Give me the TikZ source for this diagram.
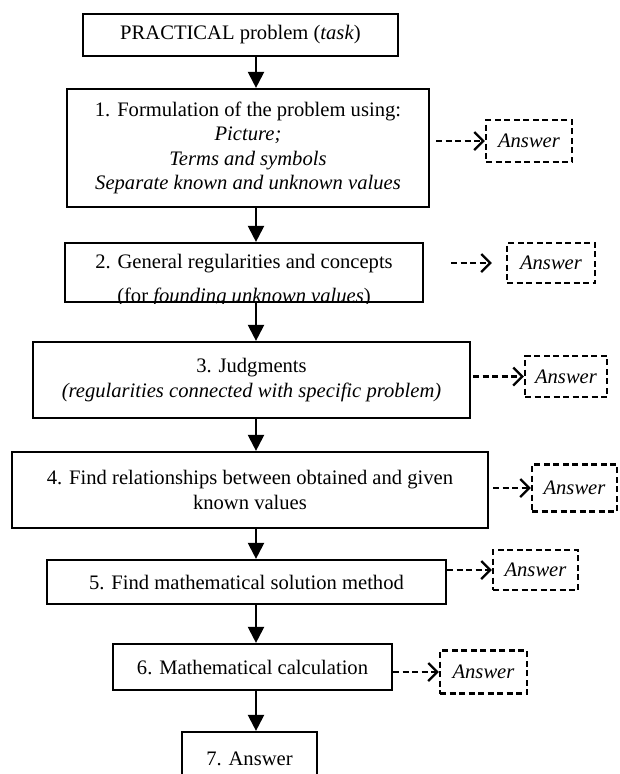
\documentclass[tikz,border=0pt]{standalone}
\usepackage{fontspec}
\setmainfont{Liberation Serif}
\usetikzlibrary{arrows.meta}
\begin{document}
\begin{tikzpicture}[x=1pt,y=-1pt,
  every node/.style={font=\fontsize{20.6}{24.5}\selectfont, inner sep=0pt, align=center},
  box/.style={draw, line width=2.2pt},
  ansbox/.style={draw, line width=2.4pt, dash pattern=on 6pt off 3.5pt, font=\fontsize{20.6}{24.5}\selectfont\itshape},
  mainarrow/.style={line width=2.2pt, -{Triangle[length=16pt,width=16pt]}},
  dasharrow/.style={line width=2.2pt, dash pattern=on 6pt off 3.5pt, -{Straight Barb[length=9pt,width=18pt,line width=2.2pt]}}
]
\clip (0,0) rectangle (619,774);
\fill[white] (0,0) rectangle (619,774);
\coordinate (vx) at (256,0);

% main boxes
\node[box, minimum width=315pt, minimum height=42pt] (b0) at (240.5,35) {PRACTICAL problem (\textit{task})};
\node[box, minimum width=362pt, minimum height=118pt] (b1) at (248,148)
  {1. Formulation of the problem using:\\ \textit{Picture;}\\ \textit{Terms and symbols}\\ \textit{Separate known and unknown values}};
\node[box, minimum width=358pt, minimum height=59pt] (b2) at (244,272.5) {};
\begin{scope}
  \clip (b2.south west) rectangle (b2.north east);
  \node (t2a) at (244,264) {2. General regularities and concepts};
  \node (t2b) at (244,297.5) {(for \textit{founding unknown values})};
\end{scope}
\node[box, minimum width=437pt, minimum height=76pt] (b3) at (251.5,380)
  {3. Judgments\\ \textit{(regularities connected with specific problem)}};
\node[box, minimum width=476pt, minimum height=76pt] (b4) at (250,490)
  {4. Find relationships between obtained and given\\ known values};
\node[box, minimum width=399pt, minimum height=44pt] (b5) at (246.5,582) {5. Find mathematical solution method};
\node[box, minimum width=279pt, minimum height=46pt] (b6) at (252.5,667) {6. Mathematical calculation};
\node[box, minimum width=135pt, minimum height=70pt] (b7) at (249.5,767) {};
\node (t7) at (249.5,759) {7. Answer};

% answer boxes
\node[ansbox, minimum width=86pt, minimum height=42pt] (a1) at (529,141) {Answer};
\node[ansbox, minimum width=88pt, minimum height=40pt] (a2) at (551,263) {Answer};
\node[ansbox, minimum width=82pt, minimum height=41pt] (a3) at (566,376.5) {Answer};
\node[ansbox, minimum width=85pt, minimum height=47pt] (a4) at (574.5,488) {Answer};
\node[ansbox, minimum width=85pt, minimum height=40pt] (a5) at (535.5,570) {Answer};
\node[ansbox, minimum width=87pt, minimum height=43pt] (a6) at (483.5,672) {Answer};

% main arrows
\draw[mainarrow] (b0.south -| vx) -- (b1.north -| vx);
\draw[mainarrow] (b1.south -| vx) -- (b2.north -| vx);
\draw[mainarrow] (b2.south -| vx) -- (b3.north -| vx);
\draw[mainarrow] (b3.south -| vx) -- (b4.north -| vx);
\draw[mainarrow] (b4.south -| vx) -- (b5.north -| vx);
\draw[mainarrow] (b5.south -| vx) -- (b6.north -| vx);
\draw[mainarrow] (b6.south -| vx) -- (b7.north -| vx);

% dashed arrows
\draw[dasharrow] ([xshift=6pt]b1.east |- a1.west) -- (a1.west);
\draw[dasharrow] ([xshift=27pt]b2.east |- a2.west) -- ([xshift=-14pt]a2.west);
\draw[dasharrow] ([xshift=2pt]b3.east |- a3.west) -- (a3.west);
\draw[dasharrow] ([xshift=4pt]b4.east |- a4.west) -- (a4.west);
\draw[dasharrow] (b5.east |- a5.west) -- (a5.west);
\draw[dasharrow] (b6.east |- a6.west) -- (a6.west);
\end{tikzpicture}
\end{document}
